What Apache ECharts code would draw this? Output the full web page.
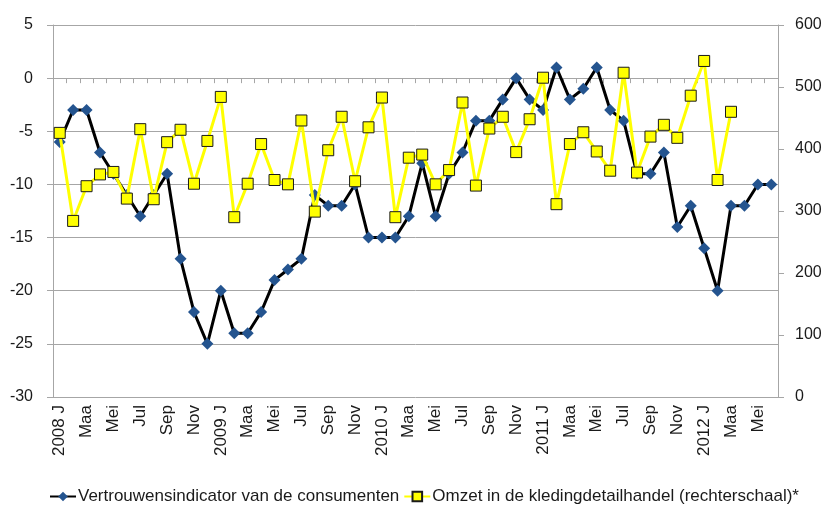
<!DOCTYPE html>
<html>
<head>
<meta charset="utf-8">
<script src="https://cdn.jsdelivr.net/npm/echarts@6/dist/echarts.min.js"></script>
<style>
  html, body { margin: 0; padding: 0; background: #fff; }
  #chart { width: 825px; height: 507px; }
</style>
</head>
<body>
<div id="chart"></div>
<script>
const FONT = "'Liberation Sans', Arial, sans-serif";

// months Jan 2008 .. Jun 2012
const months = [
  "2008 J", "Feb", "Maa", "Apr", "Mei", "Jun", "Jul", "Aug", "Sep", "Okt", "Nov", "Dec",
  "2009 J", "Feb", "Maa", "Apr", "Mei", "Jun", "Jul", "Aug", "Sep", "Okt", "Nov", "Dec",
  "2010 J", "Feb", "Maa", "Apr", "Mei", "Jun", "Jul", "Aug", "Sep", "Okt", "Nov", "Dec",
  "2011 J", "Feb", "Maa", "Apr", "Mei", "Jun", "Jul", "Aug", "Sep", "Okt", "Nov", "Dec",
  "2012 J", "Feb", "Maa", "Apr", "Mei", "Jun",
];

const vertrouwen = [
  -6, -3, -3, -7, -9, -11, -13, -11, -9, -17, -22, -25,
  -20, -24, -24, -22, -19, -18, -17, -11, -12, -12, -10, -15,
  -15, -15, -13, -8, -13, -9, -7, -4, -4, -2, 0, -2,
  -3, 1, -2, -1, 1, -3, -4, -9, -9, -7, -14, -12,
  -16, -20, -12, -12, -10, -10,
];

const omzet = [
  426, 284, 340, 359, 363, 320, 432, 319, 411, 431, 344, 413,
  484, 290, 344, 408, 350, 343, 446, 299, 398, 452, 348, 435,
  483, 290, 386, 391, 343, 366, 475, 341, 433, 452, 395, 448,
  515, 311, 408, 427, 396, 365, 523, 362, 420, 439, 418, 486,
  542, 350, 460,
];

const gridColor = "#a6a6a6";
const textColor = "#1a1a1a";

const chart = echarts.init(document.getElementById("chart"));

chart.setOption({
  animation: false,
  textStyle: { fontFamily: FONT },
  grid: { left: 53, right: 47, top: 25, bottom: 110 },
  legend: {
    left: 44,
    top: 483,
    itemGap: 4,
    itemWidth: 26,
    itemHeight: 12,
    textStyle: { fontFamily: FONT, fontSize: 17, color: textColor, padding: [0, 0, 0, -3] },
    data: [
      "Vertrouwensindicator van de consumenten",
      "Omzet in de kledingdetailhandel (rechterschaal)*",
    ],
  },
  xAxis: [
    {
      type: "category",
      data: months,
      position: "bottom",
      boundaryGap: true,
      axisLine: { onZero: true, onZeroAxisIndex: 0, lineStyle: { color: gridColor, width: 1 } },
      axisTick: { show: true, interval: 0, length: 5, lineStyle: { color: gridColor } },
      axisLabel: { show: false },
      splitLine: { show: false },
    },
    {
      type: "category",
      data: months,
      position: "bottom",
      boundaryGap: true,
      axisLine: { show: false },
      axisTick: { show: false },
      axisLabel: {
        interval: 1,
        rotate: 90,
        margin: 8,
        fontFamily: FONT,
        fontSize: 17,
        color: textColor,
      },
      splitLine: { show: false },
    },
  ],
  yAxis: [
    {
      type: "value",
      min: -30,
      max: 5,
      interval: 5,
      axisLine: { show: true, lineStyle: { color: gridColor } },
      axisTick: { show: true, length: 6, lineStyle: { color: gridColor } },
      axisLabel: { margin: 20, fontFamily: FONT, fontSize: 16, color: textColor },
      splitLine: { show: true, lineStyle: { color: gridColor, width: 1 } },
    },
    {
      type: "value",
      min: 0,
      max: 600,
      interval: 100,
      position: "right",
      axisLine: { show: true, lineStyle: { color: gridColor } },
      axisTick: { show: true, length: 6, lineStyle: { color: gridColor } },
      axisLabel: { margin: 17, fontFamily: FONT, fontSize: 16, color: textColor },
      splitLine: { show: false },
    },
  ],
  series: [
    {
      name: "Vertrouwensindicator van de consumenten",
      type: "line",
      xAxisIndex: 0,
      yAxisIndex: 0,
      data: vertrouwen,
      symbol: "diamond",
      symbolSize: 12,
      showAllSymbol: true,
      lineStyle: { color: "#000000", width: 3 },
      itemStyle: { color: "#24548f", borderWidth: 0 },
      z: 2,
    },
    {
      name: "Omzet in de kledingdetailhandel (rechterschaal)*",
      type: "line",
      xAxisIndex: 0,
      yAxisIndex: 1,
      data: omzet,
      symbol: "rect",
      symbolSize: 11,
      showAllSymbol: true,
      lineStyle: { color: "#ffff00", width: 3 },
      itemStyle: { color: "#ffff00", borderColor: "#1a1a1a", borderWidth: 1 },
      z: 3,
    },
  ],
});
</script>
</body>
</html>
